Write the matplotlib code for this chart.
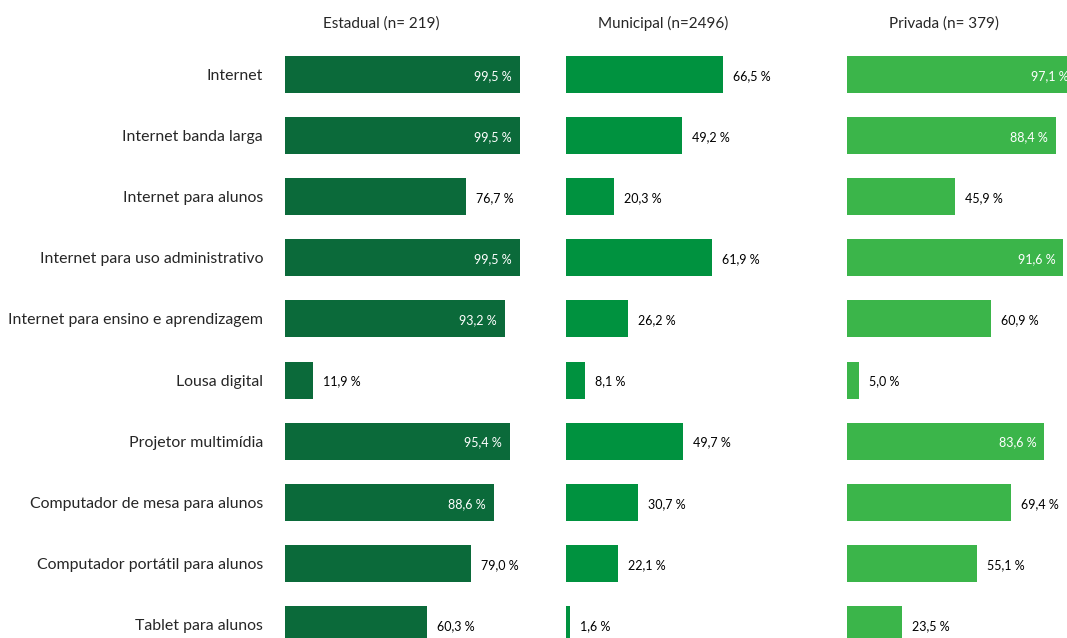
import matplotlib
matplotlib.use('Agg')
import matplotlib.pyplot as plt

plt.rcParams['font.family'] = ['Lato', 'DejaVu Sans']

# ── Data ──
categories = [
    'Internet',
    'Internet banda larga',
    'Internet para alunos',
    'Internet para uso administrativo',
    'Internet para ensino e aprendizagem',
    'Lousa digital',
    'Projetor multimídia',
    'Computador de mesa para alunos',
    'Computador portátil para alunos',
    'Tablet para alunos',
]
titles = ['Estadual (n= 219)', 'Municipal (n=2496)', 'Privada (n= 379)']
estadual = [99.5, 99.5, 76.7, 99.5, 93.2, 11.9, 95.4, 88.6, 79.0, 60.3]
municipal = [66.5, 49.2, 20.3, 61.9, 26.2, 8.1, 49.7, 30.7, 22.1, 1.6]
privada = [97.1, 88.4, 45.9, 91.6, 60.9, 5.0, 83.6, 69.4, 55.1, 23.5]
series = [estadual, municipal, privada]
colors = ['#0B6A3A', '#00923F', '#3BB54A']

W, H = 1067, 638
fig = plt.figure(figsize=(W / 100, H / 100), dpi=100)

# pixel layout
lefts = [285, 566, 847]
px_per_pct = 2.36
row0, row_step = 74.5, 61.1
ytop = -row0 / row_step
ybot = (H - row0) / row_step
dy = 1.5 / row_step   # small downward nudge for text

text_col = '#262626'
ypos = list(range(len(categories)))

for k, (vals, col, title) in enumerate(zip(series, colors, titles)):
    ax = fig.add_axes([lefts[k] / W, 0, 100 * px_per_pct / W, 1])
    ax.barh(ypos, vals, height=37 / row_step, color=col)
    ax.set_xlim(0, 100)
    ax.set_ylim(ybot, ytop)
    ax.axis('off')
    for y, v in zip(ypos, vals):
        lab = f'{v:.1f}'.replace('.', ',') + ' %'
        if v > 80:
            ax.text(v - 8 / px_per_pct, y + dy, lab, ha='right', va='center',
                    fontsize=9, color='white')
        else:
            ax.text(v + 10 / px_per_pct, y + dy, lab, ha='left', va='center',
                    fontsize=9, color='black')
    ax.text(41, ytop + 23.5 / row_step, title, ha='center', va='center',
            fontsize=11, color=text_col)
    if k == 0:
        for y, c in zip(ypos, categories):
            ax.text(-22 / px_per_pct, y + dy, c, ha='right', va='center',
                    fontsize=11.4, color=text_col)

fig.savefig('out.png', dpi=100)
